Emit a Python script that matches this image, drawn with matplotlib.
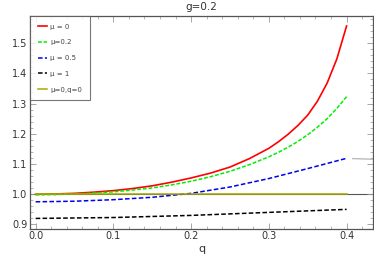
import numpy as np
import matplotlib.pyplot as plt
from matplotlib.ticker import MultipleLocator

# values
q_red = [0.0, 0.025, 0.05, 0.075, 0.1, 0.125, 0.15, 0.175, 0.2, 0.225, 0.25, 0.275,
         0.3, 0.3125, 0.325, 0.3375, 0.35, 0.3625, 0.375, 0.3875, 0.4]
n_mu0 = [1.000, 1.001, 1.003, 1.007, 1.012, 1.019, 1.028, 1.040, 1.054, 1.070, 1.090, 1.118,
         1.152, 1.174, 1.199, 1.228, 1.262, 1.308, 1.368, 1.448, 1.557]

q_green = [0.0, 0.025, 0.05, 0.075, 0.1, 0.125, 0.15, 0.175, 0.2, 0.225, 0.25, 0.275,
           0.3, 0.3125, 0.325, 0.3375, 0.35, 0.3625, 0.375, 0.3875, 0.4]
n_mu02 = [0.998, 0.999, 1.001, 1.004, 1.008, 1.014, 1.021, 1.031, 1.043, 1.058, 1.076, 1.098,
          1.124, 1.139, 1.156, 1.175, 1.197, 1.222, 1.250, 1.284, 1.323]

q_blue = [0.0, 0.05, 0.1, 0.15, 0.2, 0.25, 0.3, 0.35, 0.4]
n_mu05 = [0.975, 0.977, 0.982, 0.990, 1.003, 1.024, 1.052, 1.085, 1.119]

q_black = [0.0, 0.1, 0.2, 0.3, 0.4]
n_mu1 = [0.920, 0.923, 0.930, 0.940, 0.950]

q_ref = [0.0, 0.4]
n_ref = [1.0, 1.0]

q_stub = [0.408, 0.434]
n_stub = [1.118, 1.116]

fig = plt.figure(figsize=(3.74, 2.59), dpi=100)
ax = fig.add_axes([30 / 374, 1 - 228.7 / 259, 343 / 374, 212.7 / 259])

ax.axhline(1.0, color='#555555', lw=0.8, zorder=1)
ax.plot(q_red, n_mu0, color='#ff0000', lw=1.2, label='μ = 0')
ax.plot(q_green, n_mu02, color='#00ee00', lw=1.1, ls=(0, (2.5, 1.2)), label='μ=0.2')
ax.plot(q_blue, n_mu05, color='#0000ee', lw=1.1, ls=(0, (3, 1.5)), label='μ = 0.5')
ax.plot(q_black, n_mu1, color='black', lw=1.1, ls=(0, (3, 1.5)), label='μ = 1')
ax.plot(q_ref, n_ref, color='#a8a800', lw=1.1, label='μ=0,q=0')
ax.plot(q_stub, n_stub, color='#bbbbbb', lw=1.0)

ax.set_xlim(-0.0073, 0.434)
ax.set_ylim(0.886, 1.59)
ax.xaxis.set_major_locator(MultipleLocator(0.1))
ax.xaxis.set_minor_locator(MultipleLocator(0.02))
ax.yaxis.set_major_locator(MultipleLocator(0.1))
ax.yaxis.set_minor_locator(MultipleLocator(0.02))
ax.set_xticks([0.0, 0.1, 0.2, 0.3, 0.4])
ax.set_xticklabels(['0.0', '0.1', '0.2', '0.3', '0.4'])
ax.set_yticks([0.9, 1.0, 1.1, 1.2, 1.3, 1.4, 1.5])
ax.set_yticklabels(['0.9', '1.0', '1.1', '1.2', '1.3', '1.4', '1.5'])
ax.tick_params(which='both', direction='in', top=True, right=True, colors='#999999',
               labelcolor='#333333', labelsize=7, pad=2)
ax.tick_params(which='major', length=4, width=0.6)
ax.tick_params(which='minor', length=2, width=0.5)
for s in ax.spines.values():
    s.set_color('#555555')
    s.set_linewidth(0.9)

ax.set_title('g=0.2', fontsize=7.5, color='#333333', pad=4)
ax.set_xlabel('q', fontsize=8, color='#333333', labelpad=2)
ax.set_ylabel('n', fontsize=8, color='#333333', rotation=0, labelpad=12)

leg = ax.legend(loc='upper left', fontsize=5, frameon=True, fancybox=False,
                borderaxespad=0, handlelength=1.3, handletextpad=0.55,
                labelspacing=1.4, borderpad=1.1)
leg.get_frame().set_edgecolor('#555555')
leg.get_frame().set_linewidth(0.8)
for t in leg.get_texts():
    t.set_color('#444444')

fig.savefig('out.png', dpi=100)
